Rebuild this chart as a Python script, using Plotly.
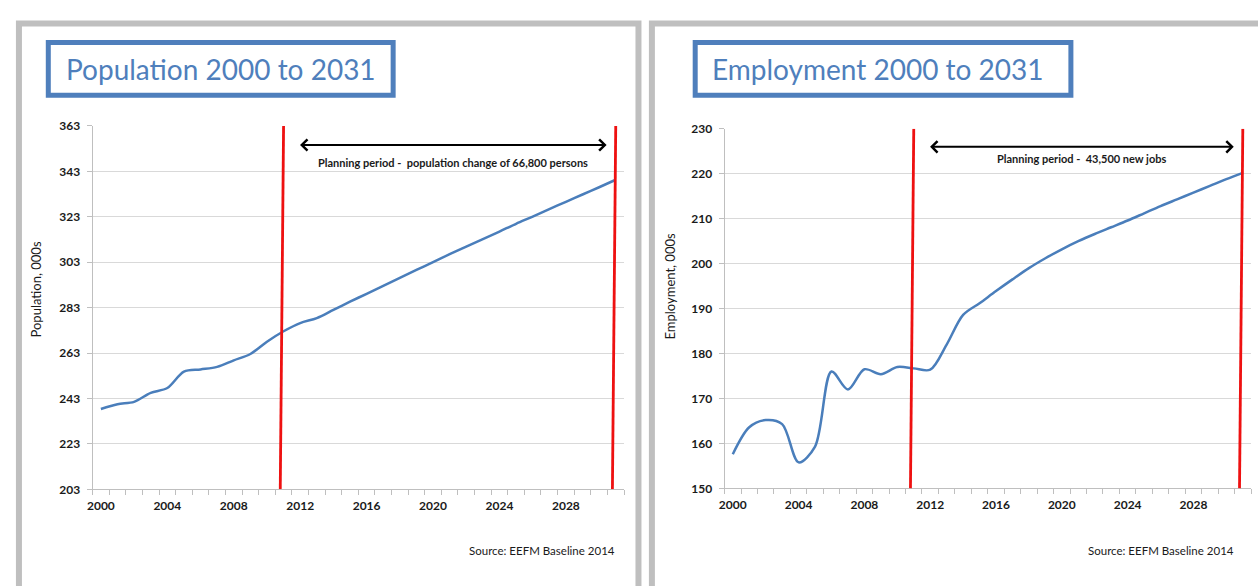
import plotly.graph_objects as go

# ---- data ----
years = list(range(2000, 2032))
population = [238.4, 240.5, 241.5, 245.5, 247.6, 254.8, 255.8, 256.9, 259.8, 262.6,
              268.0, 272.6, 276.2, 278.4, 282.0, 285.6, 289.1, 292.6, 296.1, 299.6,
              303.0, 306.5, 309.9, 313.2, 316.5, 319.9, 323.1, 326.4, 329.6, 332.8,
              336.0, 339.3]
employment = [157.6, 163.6, 165.2, 164.3, 155.8, 159.3, 176.0, 172.0, 176.5, 175.4,
              177.0, 176.7, 176.4, 182.0, 188.6, 191.2, 193.9, 196.5, 199.0, 201.2,
              203.2, 205.0, 206.6, 208.1, 209.6, 211.2, 212.8, 214.3, 215.8, 217.3,
              218.8, 220.2]
year_ticks = [2000, 2004, 2008, 2012, 2016, 2020, 2024, 2028]
pop_ticks = [203, 223, 243, 263, 283, 303, 323, 343, 363]
emp_ticks = [150, 160, 170, 180, 190, 200, 210, 220, 230]
planning_start, planning_end = 2011, 2031
titles = ["Population 2000 to 2031", "Employment 2000 to 2031"]
y_titles = ["Population, 000s", "Employment, 000s"]
notes = ["Planning period -  population change of 66,800 persons",
         "Planning period -  43,500 new jobs"]
source = "Source: EEFM Baseline 2014"

W, H = 1258, 586
def px(x):
    return x / W
def py(y):
    return 1 - y / H

LINE_BLUE = "#4a7ebb"
TITLE_BLUE = "#4f7fbc"
GRID = "#d9d9d9"
AXIS = "#bfbfbf"
TXT = "#1a1a1a"
FONT = "Lato"

fig = go.Figure()
fig.add_trace(go.Scatter(x=years, y=population, mode="lines", xaxis="x", yaxis="y",
                         line=dict(color=LINE_BLUE, width=2.5, shape="spline", smoothing=0.9),
                         hoverinfo="x+y", showlegend=False))
fig.add_trace(go.Scatter(x=years, y=employment, mode="lines", xaxis="x2", yaxis="y2",
                         line=dict(color=LINE_BLUE, width=2.5, shape="spline", smoothing=0.9),
                         hoverinfo="x+y", showlegend=False))

def xaxis_cfg(domain):
    return dict(domain=domain, range=[1999.5, 2031.5], tickmode="array",
                tickvals=year_ticks, ticktext=[str(t) for t in year_ticks],
                ticks="", ticklabelstandoff=5, showgrid=False, zeroline=False,
                showline=True, linecolor=AXIS, linewidth=1, fixedrange=True,
                tickfont=dict(family=FONT, size=12, color=TXT, weight="bold"),
                minor=dict(tick0=1999.5, dtick=1, ticks="outside", ticklen=5,
                           tickcolor=AXIS, tickwidth=1, showgrid=False))

def yaxis_cfg(domain, ticks, anchor):
    return dict(domain=domain, range=[ticks[0], ticks[-1]], tickmode="array",
                tickvals=ticks, ticks="outside", ticklen=5, tickcolor=AXIS,
                ticklabelstandoff=4,
                showgrid=True, gridcolor=GRID, gridwidth=1, zeroline=False,
                showline=True, linecolor=AXIS, linewidth=1, anchor=anchor,
                fixedrange=True,
                tickfont=dict(family=FONT, size=12, color=TXT, weight="bold"))

fig.update_layout(
    width=W, height=H, margin=dict(l=0, r=0, t=0, b=0),
    paper_bgcolor="white", plot_bgcolor="white",
    xaxis=xaxis_cfg([px(87), px(621)]) | dict(anchor="y"),
    yaxis=yaxis_cfg([py(494), py(121)], pop_ticks, "x"),
    xaxis2=xaxis_cfg([px(722), px(1251)]) | dict(anchor="y2"),
    yaxis2=yaxis_cfg([py(493), py(124)], emp_ticks, "x2"),
)

shapes = []
# panel frames
for x0, x1 in [(13, 635.5), (649, 1275)]:
    shapes.append(dict(type="rect", xref="paper", yref="paper",
                       x0=px(x0), x1=px(x1), y0=py(16), y1=py(620),
                       line=dict(color="#bfbfbf", width=6)))
# title boxes
for x0, x1 in [(42.5, 389), (692.5, 1070)]:
    shapes.append(dict(type="rect", xref="paper", yref="paper",
                       x0=px(x0), x1=px(x1), y0=py(35.5), y1=py(89.5),
                       line=dict(color=TITLE_BLUE, width=5)))
# planning period boundaries
for xr, yr, ticks in [("x", "y", pop_ticks), ("x2", "y2", emp_ticks)]:
    for yrv in (planning_start, planning_end):
        shapes.append(dict(type="line", xref=xr, yref=yr,
                           x0=yrv - 0.2, x1=yrv, y0=ticks[0], y1=ticks[-1],
                           line=dict(color="#ee1111", width=2.8)))

annotations = []
# titles
for text, x in zip(titles, [58, 707]):
    annotations.append(dict(text=text, xref="paper", yref="paper", x=px(x), y=py(62.5),
                            xanchor="left", yanchor="middle", showarrow=False,
                            font=dict(family=FONT, size=28, color=TITLE_BLUE)))
# axis titles
for text, x, y in zip(y_titles, [30, 667], [289, 285]):
    annotations.append(dict(text=text, xref="paper", yref="paper", x=px(x), y=py(y),
                            xanchor="center", yanchor="middle", showarrow=False,
                            textangle=-90,
                            font=dict(family=FONT, size=13, color=TXT)))
# double-headed arrows across the planning period
arrow_specs = [("x", "y", 354.6, 347.1, 2011.9, 2030.45, notes[0]),
               ("x2", "y2", 226.0, 223.4, 2011.9, 2030.45, notes[1])]
for xr, yr, ya, yt, xs, xe, note in arrow_specs:
    annotations.append(dict(text="", xref=xr, yref=yr, x=xe, y=ya,
                            axref=xr, ayref=yr, ax=xs, ay=ya, showarrow=True,
                            arrowside="end+start", arrowhead=4, startarrowhead=4,
                            arrowsize=1.1, startarrowsize=1.1, arrowwidth=2,
                            arrowcolor="black"))
    annotations.append(dict(text=note, xref=xr, yref=yr, x=(xs + xe) / 2, y=yt,
                            xanchor="center", yanchor="middle", showarrow=False,
                            font=dict(family=FONT, size=11, color=TXT, weight="bold")))
# source notes
for x in [614, 1236]:
    annotations.append(dict(text=source, xref="paper", yref="paper", x=px(x), y=py(557),
                            xanchor="right", yanchor="middle", showarrow=False,
                            font=dict(family=FONT, size=11.5, color=TXT)))

fig.update_layout(shapes=shapes, annotations=annotations)
fig.write_html("out.html", post_script="document.body.style.margin='0';")
